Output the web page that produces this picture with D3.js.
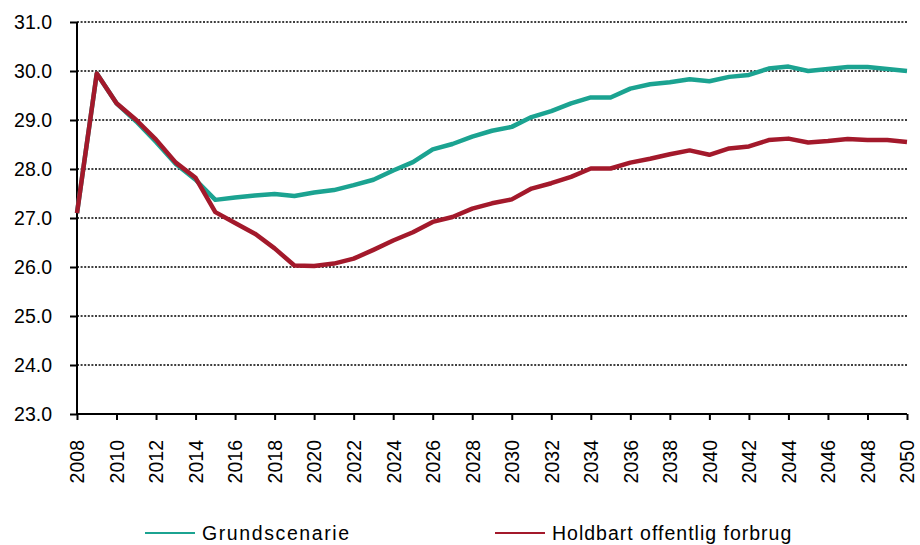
<!DOCTYPE html>
<html>
<head>
<meta charset="utf-8">
<script src="https://cdn.jsdelivr.net/npm/d3@7"></script>
<style>
  body { margin: 0; background: #fff; }
  text { font-family: "Liberation Sans", Arial, sans-serif; fill: #000; }
</style>
</head>
<body>
<svg id="chart" width="920" height="545"></svg>
<script>
// data
const years = d3.range(2008, 2051);
const grund = [27.1, 29.95, 29.34, 28.97, 28.55, 28.1, 27.78, 27.37, 27.42, 27.46,
  27.49, 27.45, 27.52, 27.57, 27.67, 27.78, 27.97, 28.14, 28.4, 28.51,
  28.66, 28.78, 28.86, 29.06, 29.18, 29.34, 29.46, 29.46, 29.64, 29.73,
  29.77, 29.83, 29.79, 29.88, 29.92, 30.05, 30.09, 30.0, 30.04, 30.08,
  30.08, 30.04, 30.0];
const holdbart = [27.1, 29.95, 29.34, 29.0, 28.6, 28.13, 27.82, 27.12, 26.9, 26.68,
  26.38, 26.03, 26.02, 26.07, 26.17, 26.35, 26.54, 26.71, 26.92, 27.02,
  27.19, 27.3, 27.38, 27.6, 27.71, 27.84, 28.01, 28.01, 28.13, 28.21,
  28.3, 28.38, 28.29, 28.42, 28.46, 28.59, 28.62, 28.54, 28.57, 28.61,
  28.59, 28.59, 28.55];
const yTicks = [23, 24, 25, 26, 27, 28, 29, 30, 31];
const xTicks = d3.range(2008, 2051, 2);
const seriesNames = ["Grundscenarie", "Holdbart offentlig forbrug"];
const colors = ["#1ba391", "#a3192b"];

const svg = d3.select("#chart");
const plotLeft = 77, plotRight = 907, plotTop = 22, plotBottom = 414;

const x = d3.scaleLinear().domain([2008, 2050]).range([plotLeft, plotRight]);
const y = d3.scaleLinear().domain([23, 31]).range([plotBottom, plotTop]);

// grid lines
svg.append("g")
    .selectAll("line")
    .data(yTicks.filter(d => d > 23))
    .enter().append("line")
    .attr("x1", plotLeft)
    .attr("x2", plotRight)
    .attr("y1", d => y(d))
    .attr("y2", d => y(d))
    .attr("stroke", "#000")
    .attr("stroke-width", 1.5)
    .attr("stroke-dasharray", "2,1.6");

// y axis
const yAxis = svg.append("g")
    .attr("transform", "translate(" + plotLeft + ",0)")
    .call(d3.axisLeft(y).tickValues(yTicks).tickFormat(d3.format(".1f")).tickSize(7).tickPadding(18));
yAxis.select(".domain").attr("stroke-width", 2).attr("d", "M0," + plotBottom + "V" + plotTop);
yAxis.selectAll(".tick line").attr("stroke-width", 2);
yAxis.selectAll("text").style("font-size", "19.5px").attr("dy", "0.35em");

// x axis
const xAxis = svg.append("g")
    .attr("transform", "translate(0," + plotBottom + ")")
    .call(d3.axisBottom(x).tickValues(xTicks).tickFormat(d3.format("d")).tickSize(6));
xAxis.select(".domain").attr("stroke-width", 2).attr("d", "M" + plotLeft + ",0H" + plotRight);
xAxis.selectAll(".tick line").attr("stroke-width", 2);
xAxis.selectAll("text")
    .style("font-size", "19.5px")
    .style("text-anchor", "end")
    .attr("transform", "rotate(-90)")
    .attr("x", -26)
    .attr("y", 0)
    .attr("dy", "0.35em");

// lines
const seriesData = [grund, holdbart];
const line = d3.line()
    .x((d, i) => x(years[i]))
    .y(d => y(d));

svg.append("g")
    .selectAll("path")
    .data(seriesData)
    .enter().append("path")
    .attr("d", line)
    .attr("fill", "none")
    .attr("stroke", (d, i) => colors[i])
    .attr("stroke-width", 4.5)
    .attr("stroke-linejoin", "round");

// legend
const legendX = [145, 495];
const legend = svg.append("g")
    .selectAll("g")
    .data(seriesNames)
    .enter().append("g")
    .attr("transform", (d, i) => "translate(" + legendX[i] + ",533)");
legend.append("line")
    .attr("x1", 0)
    .attr("x2", 50)
    .attr("stroke", (d, i) => colors[i])
    .attr("stroke-width", 2);
legend.append("text")
    .attr("x", 57)
    .attr("dy", "0.35em")
    .style("font-size", "19.5px")
    .style("letter-spacing", (d, i) => i === 0 ? "1.6px" : "1px")
    .text(d => d);
</script>
</body>
</html>
